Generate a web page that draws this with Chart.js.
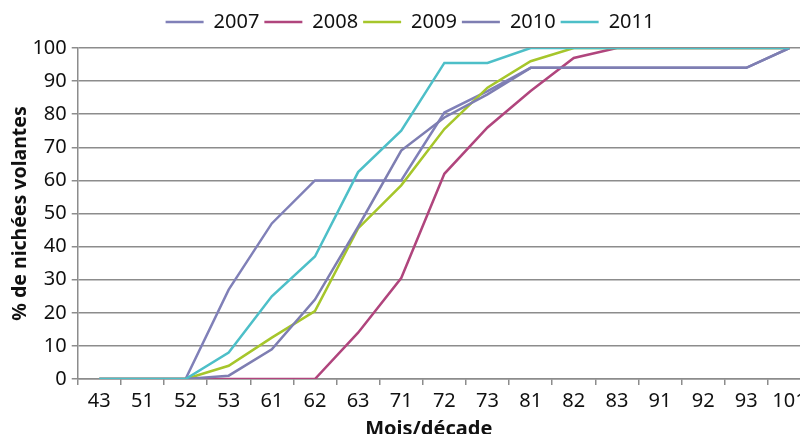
<!DOCTYPE html>
<html>
<head>
<meta charset="utf-8">
<script src="https://cdn.jsdelivr.net/npm/chart.js@4"></script>
<style>
    html, body { margin: 0; padding: 0; background: #fff; overflow: hidden; }
    /* a bit wider and taller than the window: the right and bottom edges get cut, as in the original */
    #wrap { width: 812px; height: 442px; }
</style>
</head>
<body>
<div id="wrap"><canvas id="chart"></canvas></div>
<script>
// mois/décade (ex. 43 = avril, 3e décade)
const decades = ['43', '51', '52', '53', '61', '62', '63', '71', '72', '73', '81', '82', '83', '91', '92', '93', '101']

// % de nichées volantes
const y2007 = [0, 0, 0, 27, 47, 60, 60, 60, 80.5, 87, 94, 94, 94, 94, 94, 94, 100]
const y2008 = [0, 0, 0, 0, 0, 0, 14, 30.5, 62, 76, 87, 97, 100, 100, 100, 100, 100]
const y2009 = [0, 0, 0, 4, 12.5, 20.5, 45.5, 58.5, 75.5, 88, 96, 100, 100, 100, 100, 100, 100]
const y2010 = [0, 0, 0, 1, 9, 24, 46, 69, 79, 86, 94, 94, 94, 94, 94, 94, 100]
const y2011 = [0, 0, 0, 8, 25, 37, 62.5, 75, 95.5, 95.5, 100, 100, 100, 100, 100, 100, 100]

const years = ['2007', '2008', '2009', '2010', '2011']
const series = [y2007, y2008, y2009, y2010, y2011]
const colors = ['#8080b8', '#b0457d', '#a6c62b', '#7e7eb2', '#4dbfc8']

const font = 'Noto Sans'
const grey = '#8c8c8c'
const ink = '#111'

const datasets = series.map((values, i) => ({
    label: years[i],
    data: values,
    borderColor: colors[i],
    backgroundColor: colors[i],
    borderWidth: 2.5,
    pointRadius: 0,
    tension: 0,
    // last year drawn on top
    order: series.length - i,
}))

// extra room between the legend and the plot
const legendGap = {
    id: 'legendGap',
    beforeInit(chart) {
        const fit = chart.legend.fit
        chart.legend.fit = function () {
            fit.call(this)
            this.height += 6
        }
    },
}

new Chart(document.getElementById('chart'), {
    type: 'line',
    data: { labels: decades, datasets },
    plugins: [legendGap],
    options: {
        responsive: true,
        maintainAspectRatio: false,
        animation: false,
        layout: { padding: { left: 9, right: 1, top: 7, bottom: 0 } },
        plugins: {
            tooltip: { enabled: false },
            legend: {
                position: 'top',
                labels: {
                    usePointStyle: true,
                    pointStyle: 'line',
                    pointStyleWidth: 38,
                    padding: 5,
                    color: ink,
                    font: { family: font, size: 20 },
                    sort: (a, b) => a.datasetIndex - b.datasetIndex,
                },
            },
        },
        scales: {
            x: {
                offset: true,
                grid: {
                    offset: true,
                    drawOnChartArea: false,
                    drawTicks: true,
                    tickLength: 6,
                    color: grey,
                    lineWidth: 1.5,
                },
                border: { color: grey, width: 1.5 },
                ticks: {
                    autoSkip: false,
                    maxRotation: 0,
                    padding: 4,
                    color: ink,
                    font: { family: font, size: 20 },
                },
                title: {
                    display: true,
                    // trailing spaces pull the title a little left, like the original
                    text: 'Mois/décade      ',
                    color: ink,
                    font: { family: font, size: 20, weight: 'bold' },
                    padding: { top: 0, bottom: 1 },
                },
            },
            y: {
                min: 0,
                max: 100,
                grid: {
                    color: grey,
                    lineWidth: 1.5,
                    tickLength: 6,
                },
                border: { color: grey, width: 1.5 },
                ticks: {
                    stepSize: 10,
                    padding: 5,
                    color: ink,
                    font: { family: font, size: 20 },
                },
                title: {
                    display: true,
                    text: '% de nichées volantes',
                    color: ink,
                    font: { family: font, size: 19.5, weight: 'bold' },
                    padding: { top: 0, bottom: -5 },
                },
            },
        },
    },
})
</script>
</body>
</html>
